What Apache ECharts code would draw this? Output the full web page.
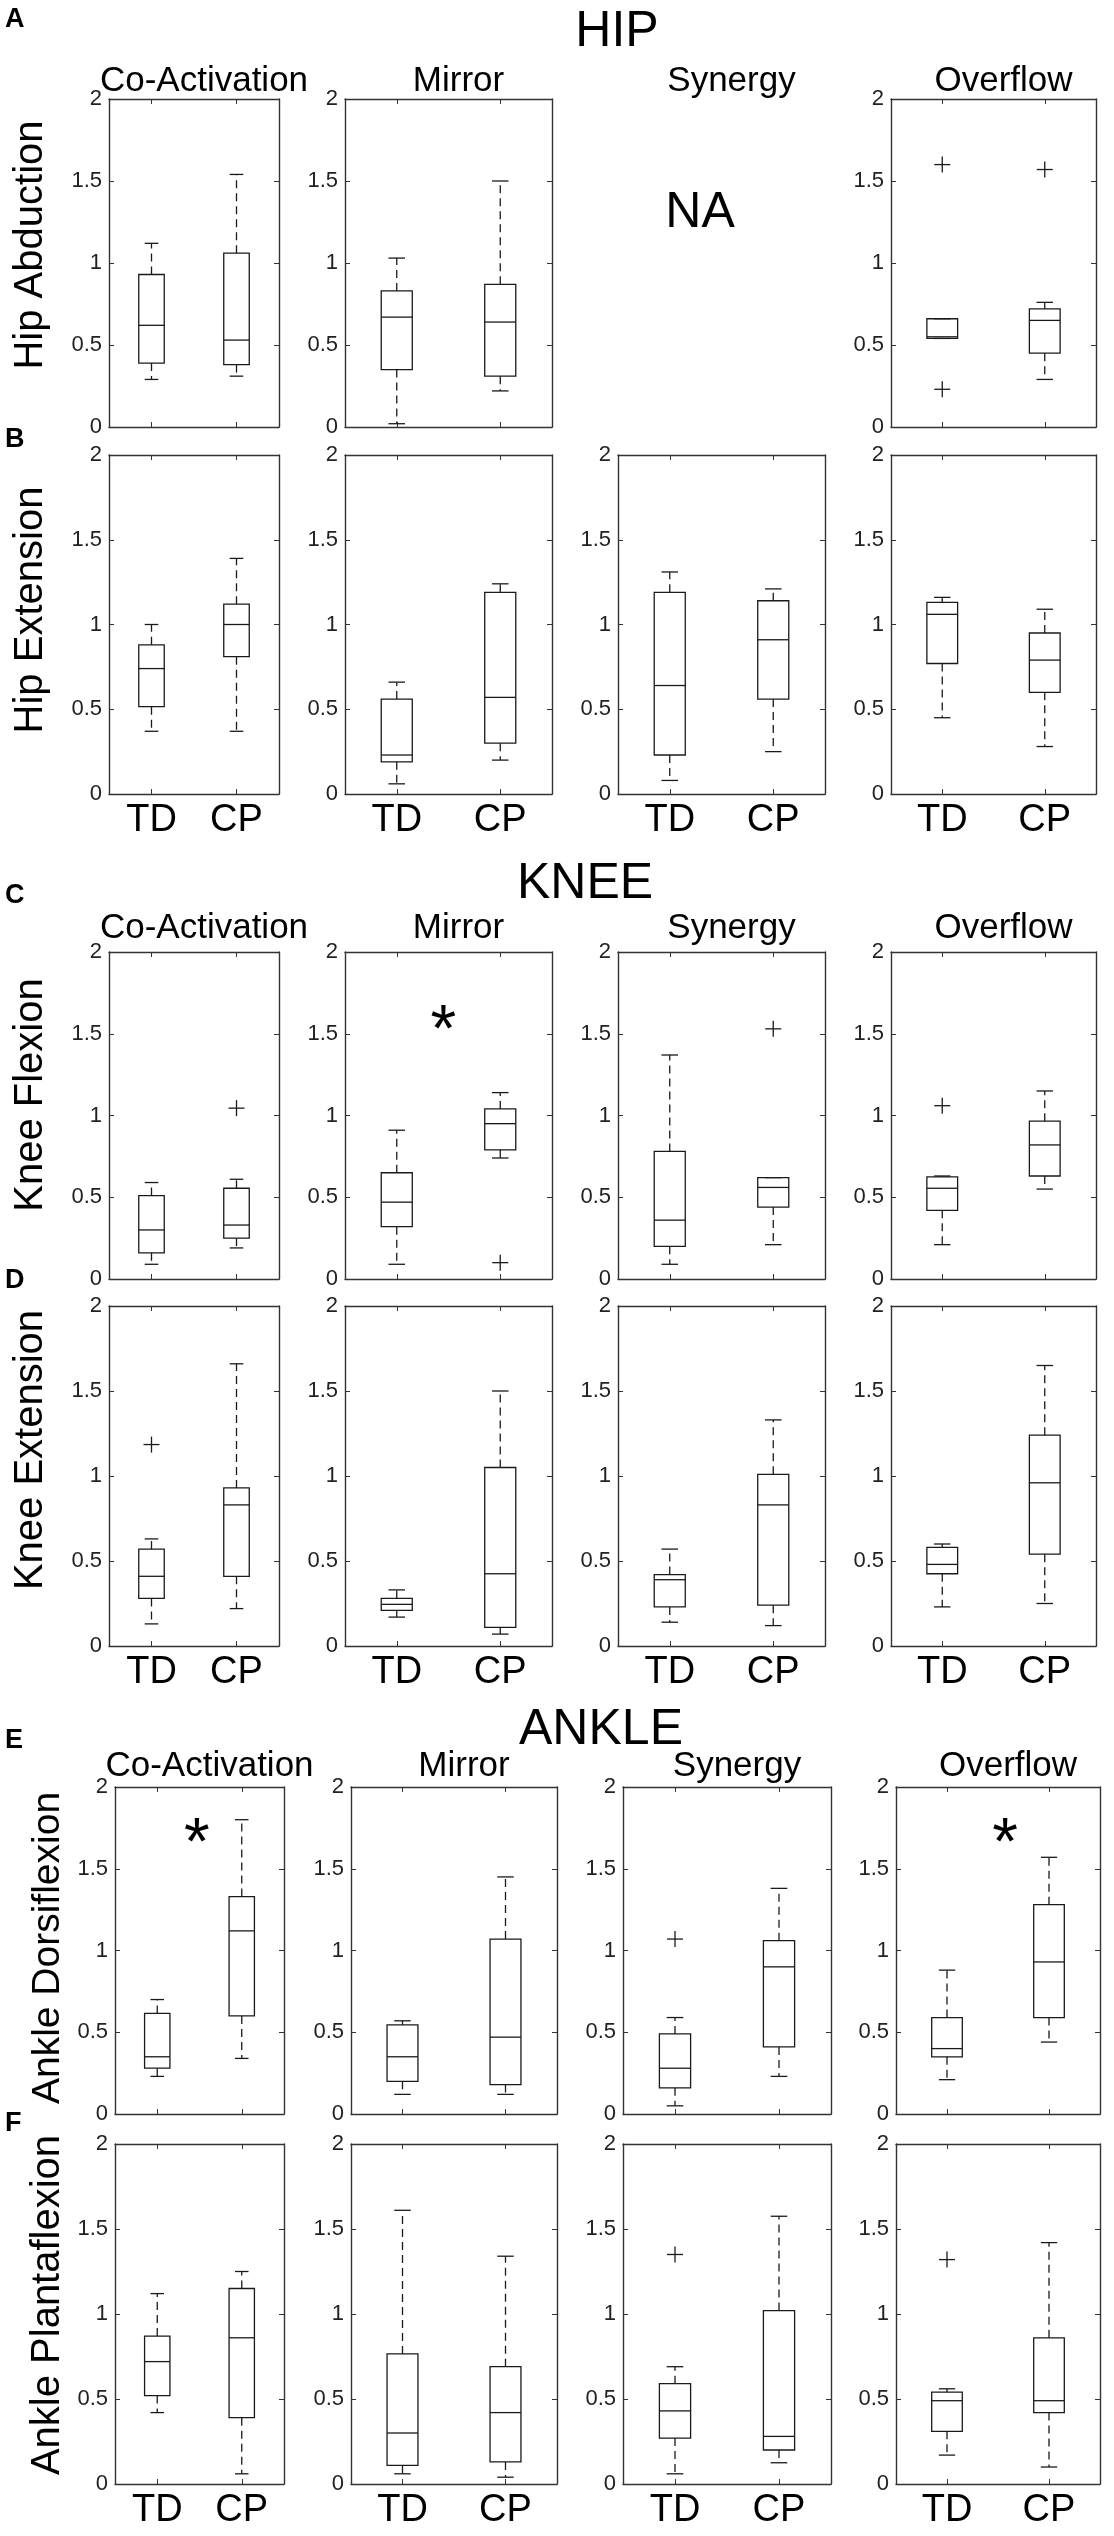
<!DOCTYPE html>
<html lang="en">
<head>
<meta charset="UTF-8">
<title>HIP / KNEE / ANKLE</title>
<script src="https://cdn.jsdelivr.net/npm/echarts@6/dist/echarts.min.js"></script>
<style>
  html, body { margin: 0; padding: 0; background: #fff; }
  #main { width: 1114px; height: 2536px; }
</style>
</head>
<body>
<div id="main"></div>
<script>
// groups and panel names
var groups = ['TD', 'CP'];
var tasks = ['Co-Activation', 'Mirror', 'Synergy', 'Overflow'];
var joints = ['HIP', 'KNEE', 'ANKLE'];
var movements = ['Hip Abduction', 'Hip Extension', 'Knee Flexion', 'Knee Extension', 'Ankle Dorsiflexion', 'Ankle Plantaflexion'];
var panelLetters = ['A', 'B', 'C', 'D', 'E', 'F'];

// box stats per task, [TD, CP], each [low whisker, Q1, median, Q3, high whisker]; null = NA
var hipAbduction = [
  [[0.29, 0.39, 0.62, 0.93, 1.12], [0.31, 0.38, 0.53, 1.06, 1.54]],
  [[0.02, 0.35, 0.67, 0.83, 1.03], [0.22, 0.31, 0.64, 0.87, 1.50]],
  null,
  [[0.54, 0.54, 0.55, 0.66, 0.66], [0.29, 0.45, 0.65, 0.72, 0.76]]
];
var hipExtension = [
  [[0.37, 0.515, 0.74, 0.88, 1.00], [0.37, 0.81, 1.00, 1.12, 1.39]],
  [[0.06, 0.19, 0.23, 0.56, 0.66], [0.20, 0.30, 0.57, 1.19, 1.24]],
  [[0.08, 0.23, 0.64, 1.19, 1.31], [0.25, 0.56, 0.91, 1.14, 1.21]],
  [[0.45, 0.77, 1.06, 1.13, 1.16], [0.28, 0.60, 0.79, 0.95, 1.09]]
];
var kneeFlexion = [
  [[0.09, 0.16, 0.30, 0.51, 0.59], [0.19, 0.25, 0.33, 0.555, 0.61]],
  [[0.09, 0.32, 0.47, 0.65, 0.91], [0.74, 0.79, 0.95, 1.04, 1.14]],
  [[0.09, 0.20, 0.36, 0.78, 1.37], [0.21, 0.44, 0.56, 0.62, 0.62]],
  [[0.21, 0.42, 0.555, 0.625, 0.63], [0.55, 0.63, 0.82, 0.965, 1.15]]
];
var kneeExtension = [
  [[0.13, 0.28, 0.41, 0.57, 0.63], [0.22, 0.41, 0.83, 0.93, 1.66]],
  [[0.17, 0.21, 0.245, 0.28, 0.33], [0.07, 0.11, 0.425, 1.05, 1.50]],
  [[0.14, 0.23, 0.39, 0.42, 0.57], [0.12, 0.24, 0.83, 1.01, 1.33]],
  [[0.23, 0.425, 0.48, 0.58, 0.60], [0.25, 0.54, 0.96, 1.24, 1.65]]
];
var ankleDorsiflexion = [
  [[0.23, 0.28, 0.35, 0.615, 0.70], [0.34, 0.60, 1.12, 1.33, 1.80]],
  [[0.12, 0.20, 0.35, 0.545, 0.57], [0.12, 0.18, 0.47, 1.07, 1.45]],
  [[0.05, 0.16, 0.28, 0.49, 0.59], [0.23, 0.41, 0.90, 1.06, 1.38]],
  [[0.21, 0.35, 0.40, 0.59, 0.88], [0.44, 0.59, 0.93, 1.28, 1.57]]
];
var anklePlantaflexion = [
  [[0.42, 0.52, 0.72, 0.87, 1.12], [0.06, 0.39, 0.86, 1.15, 1.25]],
  [[0.06, 0.11, 0.30, 0.765, 1.61], [0.04, 0.13, 0.42, 0.69, 1.34]],
  [[0.06, 0.27, 0.43, 0.59, 0.69], [0.125, 0.20, 0.28, 1.02, 1.575]],
  [[0.17, 0.31, 0.49, 0.54, 0.56], [0.10, 0.42, 0.49, 0.86, 1.42]]
];

// outliers per task, [TD values, CP values]
var hipAbductionOut = [[[], []], [[], []], null, [[1.60, 0.23], [1.57]]];
var hipExtensionOut = [[[], []], [[], []], [[], []], [[], []]];
var kneeFlexionOut = [[[], [1.045]], [[], [0.10]], [[], [1.53]], [[1.06], []]];
var kneeExtensionOut = [[[1.185], []], [[], []], [[], []], [[], []]];
var ankleDorsiflexionOut = [[[], []], [[], []], [[1.07], []], [[], []]];
var anklePlantaflexionOut = [[[], []], [[], []], [[1.35], []], [[1.32], []]];

// significance stars: [row, task, x (0 = TD, 1 = CP), y]
var stars = [[2, 1, 0.45, 1.60], [4, 0, 0.47, 1.73], [4, 3, 0.57, 1.73]];

var rowStats = [hipAbduction, hipExtension, kneeFlexion, kneeExtension, ankleDorsiflexion, anklePlantaflexion];
var rowOut = [hipAbductionOut, hipExtensionOut, kneeFlexionOut, kneeExtensionOut, ankleDorsiflexionOut, anklePlantaflexionOut];

// layout (px)
var rowBox = [[99, 328], [455, 339], [952, 327], [1306, 340], [1787, 327], [2144, 340]];
var colsTop = [[109, 170], [345, 207], [618, 207], [891, 205]];
var colsBottom = [[115, 169], [351, 206], [623, 208], [896, 204]];
var FONT = 'Liberation Sans, Arial, sans-serif';
var INK = '#1a1a1a';
var AX = '#333';

function renderBox(params, api) {
  var x = api.value(0);
  var band = api.size([1, 0])[0];
  var half = band * 0.15, cap = band * 0.08;
  var cx = api.coord([x, 0])[0];
  function y(k) { return api.coord([x, api.value(k)])[1]; }
  var lo = y(1), q1 = y(2), md = y(3), q3 = y(4), hi = y(5);
  var solid = { stroke: INK, lineWidth: 1.3, fill: null };
  var dashed = { stroke: INK, lineWidth: 1.3, lineDash: [8, 5], fill: null };
  return {
    type: 'group',
    children: [
      { type: 'line', shape: { x1: cx, y1: q3, x2: cx, y2: hi }, style: dashed },
      { type: 'line', shape: { x1: cx, y1: q1, x2: cx, y2: lo }, style: dashed },
      { type: 'line', shape: { x1: cx - cap, y1: hi, x2: cx + cap, y2: hi }, style: solid },
      { type: 'line', shape: { x1: cx - cap, y1: lo, x2: cx + cap, y2: lo }, style: solid },
      { type: 'rect', shape: { x: cx - half, y: q3, width: 2 * half, height: q1 - q3 }, style: { fill: null, stroke: INK, lineWidth: 1.3 } },
      { type: 'line', shape: { x1: cx - half, y1: md, x2: cx + half, y2: md }, style: solid }
    ]
  };
}

function renderPlus(params, api) {
  var p = api.coord([api.value(0), api.value(1)]);
  var s = 8;
  var st = { stroke: INK, lineWidth: 1.3, fill: null };
  return {
    type: 'group',
    children: [
      { type: 'line', shape: { x1: p[0] - s, y1: p[1], x2: p[0] + s, y2: p[1] }, style: st },
      { type: 'line', shape: { x1: p[0], y1: p[1] - s, x2: p[0], y2: p[1] + s }, style: st }
    ]
  };
}

function renderStar(params, api) {
  var p = api.coord([api.value(0), api.value(1)]);
  return {
    type: 'text', x: p[0], y: p[1] + 15,
    style: { text: '*', font: '66px ' + FONT, fill: '#000', textAlign: 'center', textVerticalAlign: 'middle' }
  };
}

function frameLine() {
  return { show: true, onZero: false, lineStyle: { color: AX, width: 1.4 } };
}
function frameTick(align) {
  var t = { show: true, inside: true, length: 5, lineStyle: { color: AX } };
  if (align) t.alignWithLabel = true;
  return t;
}

var grids = [], xAxes = [], yAxes = [], series = [], gridAt = {};

rowStats.forEach(function (stats, r) {
  stats.forEach(function (pair, c) {
    if (!pair) return;
    var g = grids.length;
    gridAt[r + '_' + c] = g;
    var cb = (r < 4 ? colsTop : colsBottom)[c];
    grids.push({ left: cb[0], width: cb[1], top: rowBox[r][0], height: rowBox[r][1] });
    var showX = r % 2 === 1;
    xAxes.push({
      gridIndex: g, type: 'category', data: groups, position: 'bottom',
      axisLine: frameLine(), axisTick: frameTick(true),
      axisLabel: { show: showX, fontSize: 38, fontFamily: FONT, color: '#000', margin: 8 },
      splitLine: { show: false }
    });
    xAxes.push({
      gridIndex: g, type: 'category', data: groups, position: 'top',
      axisLine: frameLine(), axisTick: frameTick(true),
      axisLabel: { show: false }, splitLine: { show: false }
    });
    xAxes.push({ gridIndex: g, type: 'value', min: -0.5, max: 1.5, show: false });
    yAxes.push({
      gridIndex: g, type: 'value', min: 0, max: 2, interval: 0.5, position: 'left',
      axisLine: frameLine(), axisTick: frameTick(false),
      axisLabel: { fontSize: 22, fontFamily: FONT, color: '#222', margin: 7 },
      splitLine: { show: false }
    });
    yAxes.push({
      gridIndex: g, type: 'value', min: 0, max: 2, interval: 0.5, position: 'right',
      axisLine: frameLine(), axisTick: frameTick(false),
      axisLabel: { show: false }, splitLine: { show: false }
    });
    var xi = g * 3 + 2, yi = g * 2;
    series.push({
      type: 'custom', xAxisIndex: xi, yAxisIndex: yi, renderItem: renderBox, clip: false,
      data: pair.map(function (s, k) { return [k].concat(s); })
    });
    var outs = [];
    rowOut[r][c].forEach(function (list, k) {
      list.forEach(function (v) { outs.push([k, v]); });
    });
    if (outs.length) {
      series.push({ type: 'custom', xAxisIndex: xi, yAxisIndex: yi, renderItem: renderPlus, data: outs });
    }
  });
});

stars.forEach(function (s) {
  var g = gridAt[s[0] + '_' + s[1]];
  series.push({ type: 'custom', xAxisIndex: g * 3 + 2, yAxisIndex: g * 2, renderItem: renderStar, data: [[s[2], s[3]]] });
});

// text: joint headings, task titles, y names, panel letters
var graphics = [];
function txt(t, x, y, size, opts) {
  opts = opts || {};
  graphics.push({
    type: 'text', x: x, y: y, rotation: opts.rot || 0,
    style: {
      text: t, font: (opts.bold ? 'bold ' : '') + size + 'px ' + FONT, fill: '#000',
      textAlign: opts.align || 'center', textVerticalAlign: 'middle'
    }
  });
}
var jointPos = [[617, 32], [585, 884], [601, 1730]];
joints.forEach(function (j, i) { txt(j, jointPos[i][0], jointPos[i][1], 50); });

var titleY = [81, 928, 1766];
titleY.forEach(function (ty, i) {
  var cols = i < 2 ? colsTop : colsBottom;
  tasks.forEach(function (t, c) { txt(t, cols[c][0] + cols[c][1] / 2 + 10, ty, 35); });
});

var nameY = [245, 610, 1095, 1450, 1948, 2305];
movements.forEach(function (m, r) {
  txt(m, r < 4 ? 31 : 48, nameY[r], r === 4 ? 39 : 40, { rot: Math.PI / 2 });
});

var letterY = [20, 440, 896, 1281, 1741, 2124];
panelLetters.forEach(function (l, r) { txt(l, 5, letterY[r], 27, { bold: true, align: 'left' }); });

txt('NA', 700, 213, 50);

var chart = echarts.init(document.getElementById('main'));
chart.setOption({
  animation: false,
  backgroundColor: '#fff',
  grid: grids,
  xAxis: xAxes,
  yAxis: yAxes,
  series: series,
  graphic: graphics
});
</script>
</body>
</html>
